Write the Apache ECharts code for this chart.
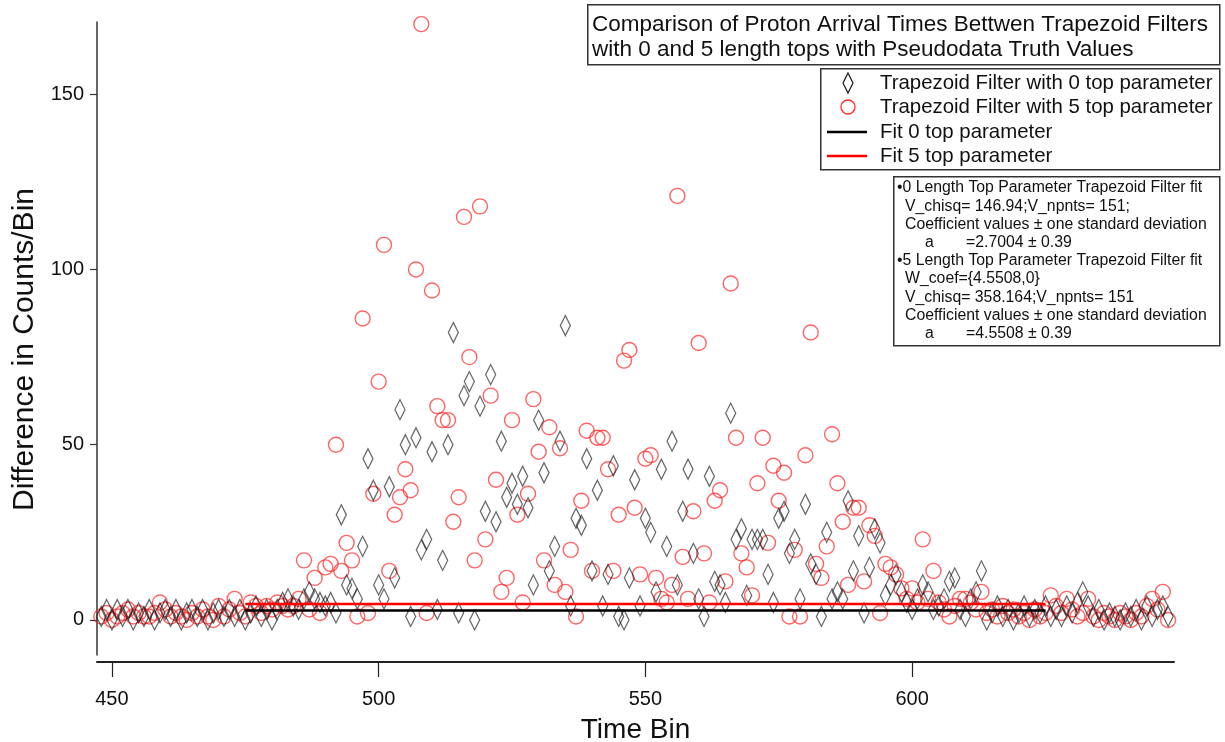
<!DOCTYPE html>
<html>
<head>
<meta charset="utf-8">
<script src="https://cdn.jsdelivr.net/npm/echarts@6/dist/echarts.min.js"></script>
<style>
html,body{margin:0;padding:0;background:#fff;}
#chart{width:1225px;height:742px;}
</style>
</head>
<body>
<div id="chart"></div>
<script>
// ---- data ----
const firstBin = 448;
// Trapezoid filter with 0 top parameter (bins 448..648)
const diff0 = [
  1,3,0,3,1,3,0,2,1,3, 0,2,3,1,3,0,2,3,1,3, 0,2,3,1,3,1,3,0,2,4, 1,3,0,3,5,6,4,
  3,6,8,6,5,4,5,2,30,10,
  9,6,21,46,37,10,6,38,12,60,
  50,1,52,20,23,48,3,17,50,82,
  2,64,68,0,61,31,70,28,51,35,
  39,33,41,32,10,57,42,14,21,51,
  84,4,29,27,46,14,37,4,13,44,
  1,0,12,40,4,29,25,8,43,21,
  51,10,31,43,19,6,1,41,11,10,
  5,59,23,26,7,23,23,23,13,5,
  29,31,19,23,6,33,16,13,1,25,
  6,8,6,34,14,24,2,15,26,22,
  7,10,13,8,5,3,6,10,8,3,
  4,6,11,12,3,1,6,8,14,0,
  2,4,1,3,0,2,4,1,3,2, 4,1,3,1,4,2,5,8,4,1, 3,0,2,1,0,2,1,3,0,4, 1,3,4,1
];
// Trapezoid filter with 5 top parameter (bins 448..648)
const diff5 = [
  1,2,0,1,2,3,1,2,1,1, 2,5,3,1,2,1,0,2,1,3, 1,0,4,1,3,6,2,1,5,4, 2,4,3,5,4,3,4,
  6,17,3,12,2,15,16,50,14,22,
  17,1,86,2,36,68,107,14,30,35,
  43,37,100,170,2,94,61,57,57,28,
  35,115,75,17,118,23,64,40,8,12,
  57,30,5,36,63,48,17,55,10,49,
  8,20,1,34,54,14,52,52,43,14,
  30,74,77,32,13,46,47,12,6,5,
  10,121,18,6,31,79,19,5,34,37,
  11,96,52,19,15,7,39,52,22,44,
  34,42,1,20,1,47,82,16,12,21,
  53,39,28,10,32,32,11,27,24,2,
  16,15,13,9,6,9,5,23,6,14,
  5,3,1,4,6,6,5,3,8,2,
  3,1,4,2,3,1,2,0,3,1, 2,7,4,2,6,3,1,2,6,1, 0,2,1,0,2,1,0,2,1,4, 6,3,8,0
];
const fitRange = [475, 625];
const fit0 = 2.7004;
const fit5 = 4.5508;
const xTicks = [450, 500, 550, 600];
const yTicks = [0, 50, 100, 150];

const titleLines = [
  'Comparison of Proton Arrival Times Bettwen Trapezoid Filters',
  'with 0 and 5 length tops with Pseudodata Truth Values'
];
const legendNames = [
  'Trapezoid Filter with 0 top parameter',
  'Trapezoid Filter with 5 top parameter',
  'Fit 0 top parameter',
  'Fit 5 top parameter'
];
const noteLines = [
  ['•0 Length Top Parameter Trapezoid Filter fit', 0],
  ['V_chisq= 146.94;V_npnts= 151;', 1],
  ['Coefficient values ± one standard deviation', 1],
  ['a', 2, '=2.7004 ± 0.39'],
  ['•5 Length Top Parameter Trapezoid Filter fit', 0],
  ['W_coef={4.5508,0}', 1],
  ['V_chisq= 358.164;V_npnts= 151', 1],
  ['Coefficient values ± one standard deviation', 1],
  ['a', 2, '=4.5508 ± 0.39']
];

// ---- build ----
const pts0 = diff0.map((v, i) => [firstBin + i, v]);
const pts5 = diff5.map((v, i) => [firstBin + i, v]);
const FONT = '"Liberation Sans", Arial, sans-serif';

const chart = echarts.init(document.getElementById('chart'), null, {renderer: 'canvas'});

const graphics = [];
// title box
graphics.push({type:'rect', left:587, top:4, shape:{width:632, height:60},
  style:{fill:'#fff', stroke:'#333', lineWidth:1.5}, z:100});
titleLines.forEach((t, i) => graphics.push({type:'text', x:592, y:25 + i*25,
  style:{text:t, font:'22.5px ' + FONT, fill:'#111', textVerticalAlign:'middle'}, z:101}));
// legend box
graphics.push({type:'rect', left:820, top:68, shape:{width:399, height:101},
  style:{fill:'#fff', stroke:'#333', lineWidth:1.5}, z:100});
const ly = [83, 107, 132, 156];
graphics.push({type:'polygon', shape:{points:[[848,73],[853,83],[848,93],[843,83]]},
  style:{fill:'none', stroke:'#222', lineWidth:1.3}, z:101});
graphics.push({type:'circle', shape:{cx:848, cy:107, r:7},
  style:{fill:'none', stroke:'#ff2a2a', lineWidth:1.3}, z:101});
graphics.push({type:'line', shape:{x1:827, y1:132, x2:867, y2:132},
  style:{stroke:'#000', lineWidth:2.5}, z:101});
graphics.push({type:'line', shape:{x1:827, y1:156, x2:867, y2:156},
  style:{stroke:'#ff0000', lineWidth:2.5}, z:101});
legendNames.forEach((t, i) => graphics.push({type:'text', x:880, y:ly[i],
  style:{text:t, font:'20.4px ' + FONT, fill:'#111', textVerticalAlign:'middle'}, z:101}));
// fit notes box
graphics.push({type:'rect', left:893, top:176, shape:{width:326, height:169},
  style:{fill:'#fff', stroke:'#333', lineWidth:1.5}, z:100});
noteLines.forEach((row, i) => {
  const y = 188 + i*18.2;
  const xs = [897, 905, 925];
  graphics.push({type:'text', x:xs[row[1]], y:y,
    style:{text:row[0], font:'15.8px ' + FONT, fill:'#111', textVerticalAlign:'middle'}, z:101});
  if (row[2]) graphics.push({type:'text', x:966, y:y,
    style:{text:row[2], font:'15.8px ' + FONT, fill:'#111', textVerticalAlign:'middle'}, z:101});
});

const option = {
  backgroundColor: '#fff',
  animation: false,
  grid: {left:97, right:51, top:22, bottom:87, outerBoundsMode:'none', containLabel:false},
  xAxis: {
    type:'value', min:447.2, max:649.1, position:'bottom', offset:7,
    axisLine:{show:true, onZero:false, lineStyle:{color:'#222', width:2}},
    axisTick:{show:true, length:15, customValues:xTicks, lineStyle:{color:'#222', width:1.2}},
    axisLabel:{customValues:xTicks, fontSize:20, color:'#111', margin:27, fontFamily:FONT},
    splitLine:{show:false},
    name:'Time Bin', nameLocation:'middle', nameGap:54,
    nameTextStyle:{fontSize:28, color:'#111', fontFamily:FONT}
  },
  yAxis: {
    type:'value', min:-10, max:170.6,
    axisLine:{show:true, onZero:false, lineStyle:{color:'#333', width:1.5}},
    axisTick:{show:true, length:7, customValues:yTicks, lineStyle:{color:'#333', width:1.2}},
    axisLabel:{customValues:yTicks, fontSize:20, color:'#111', margin:13, fontFamily:FONT},
    splitLine:{show:false},
    name:'Difference in Counts/Bin', nameLocation:'middle', nameRotate:90, nameGap:54,
    nameTextStyle:{fontSize:30, color:'#111', fontFamily:FONT, padding:[0,22,0,0]}
  },
  series: [
    {
      name: legendNames[1], type:'scatter', data:pts5, symbol:'circle', symbolSize:15,
      itemStyle:{color:'rgba(0,0,0,0)', borderColor:'rgba(255,30,30,0.85)', borderWidth:1.4},
      z:2
    },
    {
      name: legendNames[0], type:'scatter', data:pts0, symbol:'diamond', symbolSize:[10,20],
      itemStyle:{color:'rgba(0,0,0,0)', borderColor:'rgba(20,20,20,0.8)', borderWidth:1.4},
      z:3
    },
    {
      name: legendNames[2], type:'line', symbol:'none',
      data:[[fitRange[0], fit0], [fitRange[1], fit0]],
      lineStyle:{color:'#000', width:2.5}, z:4
    },
    {
      name: legendNames[3], type:'line', symbol:'none',
      data:[[fitRange[0], fit5], [fitRange[1], fit5]],
      lineStyle:{color:'#ff0000', width:2.5}, z:4
    }
  ],
  graphic: graphics
};
chart.setOption(option);
</script>
</body>
</html>
